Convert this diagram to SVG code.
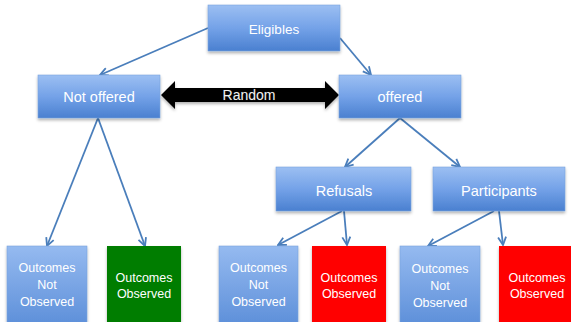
<svg xmlns="http://www.w3.org/2000/svg" width="571" height="322" viewBox="0 0 571 322">
<defs>
<linearGradient id="blue" x1="0" y1="0" x2="0" y2="1">
<stop offset="0" stop-color="#9cbff2"/>
<stop offset="0.5" stop-color="#74a2e8"/>
<stop offset="1" stop-color="#4a80d0"/>
</linearGradient>
<linearGradient id="blue2" x1="0" y1="0" x2="0" y2="1">
<stop offset="0" stop-color="#95baf0"/>
<stop offset="1" stop-color="#5a8dd8"/>
</linearGradient>
<filter id="sh" x="-10%" y="-10%" width="120%" height="130%">
<feDropShadow dx="0" dy="2" stdDeviation="1.5" flood-color="#000" flood-opacity="0.3"/>
</filter>
<marker id="ah" viewBox="0 0 10 10" refX="9" refY="5" markerWidth="10" markerHeight="10" markerUnits="userSpaceOnUse" orient="auto">
<path d="M1,1 L9,5 L1,9" fill="none" stroke="#4a7ebb" stroke-width="1.8" stroke-linejoin="miter"/>
</marker>
</defs>
<style>
.box{fill:url(#blue);stroke:#7aa3dc;stroke-width:0.6;filter:url(#sh)}
.obox{fill:url(#blue2);stroke:#7aa3dc;stroke-width:0.6;filter:url(#sh)}
.green{fill:#067d06;filter:url(#sh)}
.red{fill:#ff0000;filter:url(#sh)}
text{font-family:"Liberation Sans",Arial,sans-serif;fill:#ffffff;text-anchor:middle}
.t{font-size:14.5px}
.s{font-size:12.5px}
.c{stroke:#4a7ebb;stroke-width:1.8;fill:none;marker-end:url(#ah)}
</style>
<g id="connectors">
<line class="c" x1="208" y1="28" x2="100" y2="75"/>
<line class="c" x1="340" y1="38" x2="371" y2="75"/>
<line class="c" x1="98" y1="118" x2="47" y2="246"/>
<line class="c" x1="98" y1="118" x2="145" y2="246"/>
<line class="c" x1="400" y1="118" x2="345" y2="167"/>
<line class="c" x1="400" y1="118" x2="460" y2="167"/>
<line class="c" x1="342" y1="211" x2="278" y2="245"/>
<line class="c" x1="344" y1="211" x2="347" y2="245"/>
<line class="c" x1="494" y1="211" x2="428" y2="246"/>
<line class="c" x1="499" y1="211" x2="503" y2="245"/>
</g>
<g id="random">
<polygon points="161,95 175,81 175,88 325,88 325,81 339,95 325,109 325,102 175,102 175,109" fill="#000" filter="url(#sh)"/>
<text x="249" y="100" font-size="14" style="fill:#f0f0f0;stroke:#222;stroke-width:0.5;paint-order:stroke">Random</text>
</g>
<g id="eligibles">
<rect class="box" x="208" y="5" width="132" height="46"/>
<text class="t" x="274" y="34" style="font-size:13.5px">Eligibles</text>
</g>
<g id="not-offered">
<rect class="box" x="38" y="75" width="122" height="43"/>
<text class="t" x="99" y="102">Not offered</text>
</g>
<g id="offered">
<rect class="box" x="339" y="75" width="122" height="43"/>
<text class="t" x="400" y="102">offered</text>
</g>
<g id="refusals">
<rect class="box" x="276" y="167" width="135" height="44"/>
<text class="t" x="344" y="196">Refusals</text>
</g>
<g id="participants">
<rect class="box" x="433" y="167" width="132" height="44"/>
<text class="t" x="499" y="196">Participants</text>
</g>
<g id="out1">
<rect class="obox" x="7" y="246" width="80" height="84"/>
<text class="s" x="47" y="272">Outcomes</text>
<text class="s" x="47" y="289">Not</text>
<text class="s" x="47" y="306">Observed</text>
</g>
<g id="out2">
<rect class="green" x="107" y="246" width="74" height="84"/>
<text class="s" x="144" y="282">Outcomes</text>
<text class="s" x="144" y="298">Observed</text>
</g>
<g id="out3">
<rect class="obox" x="219" y="246" width="79" height="84"/>
<text class="s" x="258.5" y="272">Outcomes</text>
<text class="s" x="258.5" y="289">Not</text>
<text class="s" x="258.5" y="306">Observed</text>
</g>
<g id="out4">
<rect class="red" x="312" y="246" width="74" height="84"/>
<text class="s" x="349" y="282">Outcomes</text>
<text class="s" x="349" y="298">Observed</text>
</g>
<g id="out5">
<rect class="obox" x="400" y="246" width="80" height="84"/>
<text class="s" x="440" y="273">Outcomes</text>
<text class="s" x="440" y="290">Not</text>
<text class="s" x="440" y="307">Observed</text>
</g>
<g id="out6">
<rect class="red" x="499" y="246" width="76" height="84"/>
<text class="s" x="537" y="282">Outcomes</text>
<text class="s" x="537" y="298">Observed</text>
</g>
</svg>
